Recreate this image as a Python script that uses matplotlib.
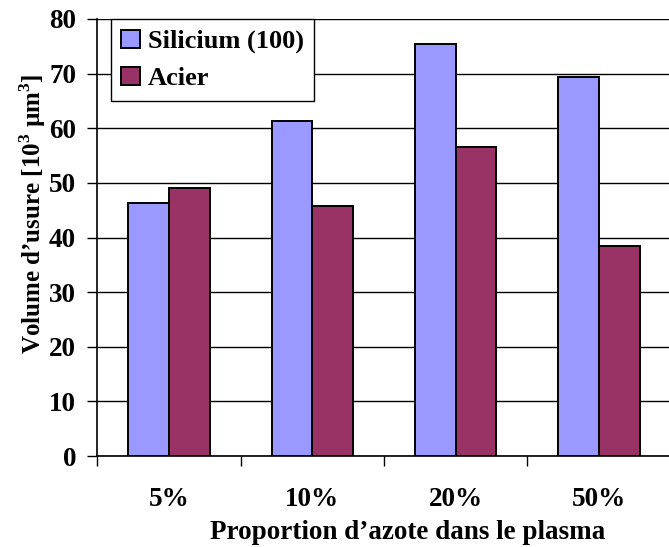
import numpy as np
import matplotlib.pyplot as plt

categories = ['5%', '10%', '20%', '50%']
silicium = [46.4, 61.3, 75.5, 69.3]
acier = [49.0, 45.8, 56.5, 38.4]
series_names = ['Silicium (100)', 'Acier']

plt.rcParams['font.family'] = ['Liberation Serif', 'DejaVu Serif']
plt.rcParams['font.weight'] = 'bold'
plt.rcParams['mathtext.fontset'] = 'custom'
plt.rcParams['mathtext.rm'] = 'Liberation Serif:bold'
plt.rcParams['mathtext.bf'] = 'Liberation Serif:bold'

fs = 19.5

fig = plt.figure(figsize=(6.69, 5.47), dpi=100)
ax = fig.add_axes([97.3 / 669, 91 / 547, 573.4 / 669, 437 / 547])

x = np.arange(len(categories))
w = 0.283
ax.bar(x - w / 2, silicium, w, color='#9999FF', edgecolor='black', linewidth=1.4,
       label=series_names[0], zorder=3)
ax.bar(x + w / 2, acier, w, color='#993366', edgecolor='black', linewidth=1.4,
       label=series_names[1], zorder=3)

ax.set_xlim(-0.5, len(categories) - 0.5)
ax.set_ylim(0, 80)
ax.set_yticks(np.arange(0, 81, 10))
ax.set_xticks(x)
ax.set_xticklabels(categories)
ax.set_xticks(np.arange(-0.5, len(categories), 1), minor=True)
ax.tick_params(axis='x', which='major', length=0, pad=22, labelsize=fs)
ax.tick_params(axis='x', which='minor', length=7, width=1, direction='out')
ax.tick_params(axis='y', length=7.2, width=1, direction='out', pad=8, labelsize=fs)
ax.yaxis.grid(True, color='black', linewidth=1, zorder=0)
ax.set_axisbelow(True)

for s in ['top', 'right']:
    ax.spines[s].set_visible(False)
for s in ['left', 'bottom']:
    ax.spines[s].set_linewidth(1.2)

ax.set_xlabel('Proportion d\u2019azote dans le plasma', fontsize=fs, fontweight='bold')
ax.xaxis.set_label_coords((408 - 97.3) / 573.4, -(520 - 456) / 437)
ax.set_ylabel('Volume d\u2019usure [10$^{3}$ \u00b5m$^{3}$]', fontsize=18, fontweight='bold')
ax.yaxis.set_label_coords(-49 / 573.4, (456 - 214) / 437)

leg = ax.legend(loc='upper left', bbox_to_anchor=(13.4 / 573.4, 1.0), fontsize=19,
                frameon=True, fancybox=False, edgecolor='black', framealpha=1,
                handlelength=0.7, handleheight=0.7, handletextpad=0.3,
                borderpad=0.4, labelspacing=0.5, borderaxespad=0)
leg.get_frame().set_linewidth(1)

fig.savefig('out.png', dpi=100)
